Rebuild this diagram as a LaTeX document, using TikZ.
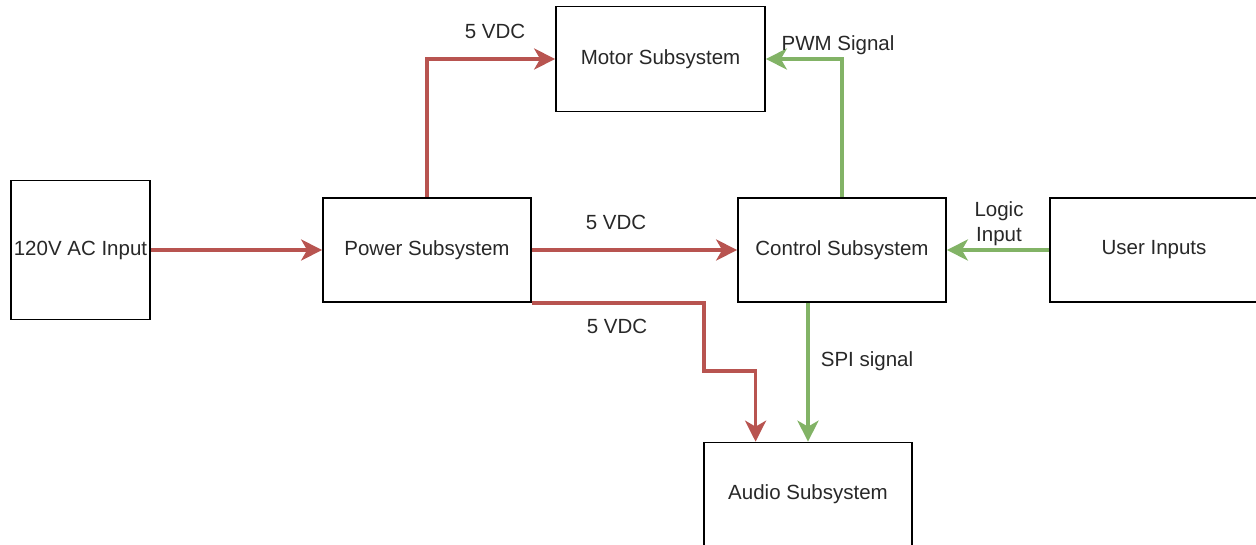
\documentclass[tikz,border=0pt]{standalone}
\usepackage{fontspec}
\setmainfont{Liberation Sans}
\usepackage{tikz}
\usetikzlibrary{arrows.meta,calc}
\definecolor{pwrred}{RGB}{184,84,80}
\definecolor{siggreen}{RGB}{130,179,102}
\definecolor{txtgray}{RGB}{40,40,40}

\begin{document}
\begin{tikzpicture}[
    x=1pt, y=-1pt,
    font=\fontsize{20.5}{25}\selectfont,
    blk/.style={draw, line width=1.7pt, minimum width=208pt,
                minimum height=104pt, inner sep=0pt, align=center, text=txtgray},
    lbl/.style={align=center, inner sep=0pt, text=txtgray},
    pwr/.style={draw=pwrred, line width=3.4pt,
                -{Stealth[length=21pt, width=21pt, inset=6pt]}},
    sig/.style={draw=siggreen, line width=3.4pt,
                -{Stealth[length=21pt, width=21pt, inset=6pt]}}
]
\useasboundingbox[fill=white] (0,0) rectangle (1256,544);
% blocks
\node[blk, minimum width=139pt, minimum height=139pt] (ac) at (80.5,250) {120V AC Input};
\node[blk] (power) at (427,250) {Power Subsystem};
\node[blk, minimum width=209pt, minimum height=105pt] (motor) at (660.5,59) {Motor Subsystem};
\node[blk] (control) at (842,250) {Control Subsystem};
\node[blk] (user) at (1154,250) {User Inputs};
\node[blk] (audio) at (808,494.5) {Audio Subsystem};
% power lines
\coordinate (bend) at (704,371);
\coordinate (audioin) at ($(audio.north west)!0.25!(audio.north east)$);
\draw[pwr] (ac) -- (power);
\draw[pwr] (power.north) |- (motor.west);
\draw[pwr] (power) -- (control);
\draw[pwr] (power.south east) -| (bend) -| (audioin);
% signal lines
\draw[sig] (control.north) |- (motor.east);
\draw[sig] (user) -- (control);
\draw[sig] (control.south -| audio.north) -- (audio.north);
% labels
\node[lbl] (vdcmotor) at (495,31) {5 VDC};
\node[lbl] (vdcctrl) at (616,222) {5 VDC};
\node[lbl] (vdcaudio) at (617,326) {5 VDC};
\node[lbl] (pwm) at (838,45) {PWM Signal};
\node[lbl] (logic) at (999,223.5) {Logic\\Input};
\node[lbl] (spi) at (867,361) {SPI signal};
\end{tikzpicture}
\end{document}
